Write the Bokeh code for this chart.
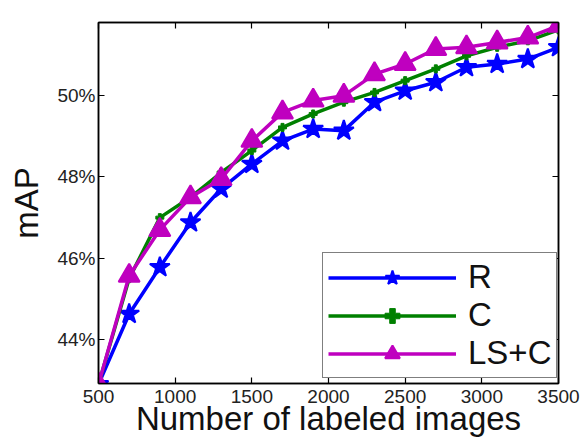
from bokeh.plotting import figure
from bokeh.models import Range1d, FixedTicker, LinearAxis, PrintfTickFormatter, Legend, LegendItem
from bokeh.embed import file_html
from bokeh.resources import INLINE

# ---- data ----
x_vals = [500, 700, 900, 1100, 1300, 1500, 1700, 1900, 2100, 2300, 2500, 2700, 2900, 3100, 3300, 3500]
r_vals = [42.9, 44.63, 45.78, 46.88, 47.71, 48.32, 48.89, 49.18, 49.14, 49.84, 50.12, 50.33, 50.70, 50.78, 50.90, 51.19]
c_vals = [42.9, 45.50, 47.00, 47.50, 48.11, 48.65, 49.22, 49.55, 49.84, 50.08, 50.37, 50.66, 50.98, 51.19, 51.35, 51.62]
lsc_vals = [42.9, 45.57, 46.70, 47.50, 47.95, 48.89, 49.59, 49.88, 50.00, 50.53, 50.78, 51.15, 51.19, 51.31, 51.43, 51.72]
series_names = ["R", "C", "LS+C"]
x_ticks = [500, 1000, 1500, 2000, 2500, 3000, 3500]
y_ticks = [44, 46, 48, 50]

FONT = "Liberation Sans"

p = figure(width=582, height=442, output_backend="svg", toolbar_location=None,
           x_range=Range1d(500, 3500), y_range=Range1d(42.92, 51.8),
           min_border_left=98, min_border_right=24, min_border_top=22, min_border_bottom=59,
           x_axis_label="Number of labeled images", y_axis_label="mAP")
p.grid.visible = False
p.outline_line_color = "black"
p.outline_line_width = 1.5
p.background_fill_color = "white"
p.border_fill_color = "white"

p.add_layout(LinearAxis(), "above")
p.add_layout(LinearAxis(), "right")

for ax in p.xaxis:
    ax.ticker = FixedTicker(ticks=x_ticks)
for ax in p.yaxis:
    ax.ticker = FixedTicker(ticks=y_ticks)
    ax.formatter = PrintfTickFormatter(format="%d%%")

for ax in p.axis:
    ax.axis_line_color = "black"
    ax.axis_line_width = 1.5
    ax.major_tick_in = 6
    ax.major_tick_out = 0
    ax.major_tick_line_color = "black"
    ax.major_tick_line_width = 1.2
    ax.minor_tick_line_color = None
    ax.major_label_text_font = FONT
    ax.major_label_text_font_size = "19px"
    ax.major_label_text_color = "#222222"
    ax.axis_label_text_font = FONT
    ax.axis_label_text_font_size = "33px"
    ax.axis_label_text_font_style = "normal"
    ax.axis_label_text_color = "#111111"

for ax in (p.above[0], p.right[0]):
    ax.major_label_text_color = None
    ax.major_label_text_font_size = "1px"
    ax.major_label_standoff = 0

p.below[0].major_label_standoff = 6
p.below[0].axis_label_standoff = -6
p.left[0].major_label_standoff = 3
p.left[0].axis_label_standoff = 9

colors = ["#0000ff", "#008000", "#bf00bf"]
markers = ["star", "plus", "triangle"]
sizes = [21, 8, 21]
widths = [2, 1, 2]
items = []
for name, vals, col, mk, sz, lw in zip(series_names, [r_vals, c_vals, lsc_vals], colors, markers, sizes, widths):
    ln = p.line(x_vals, vals, line_color=col, line_width=3.5)
    sc = p.scatter(x_vals, vals, marker=mk, size=sz, fill_color=col, line_color=col, line_width=lw)
    items.append(LegendItem(label=name, renderers=[ln, sc]))

legend = Legend(items=items, location=(224, 5))
legend.label_text_font = FONT
legend.label_text_font_size = "33px"
legend.label_text_color = "#111111"
legend.label_height = 37
legend.glyph_height = 37
legend.glyph_width = 128
legend.label_standoff = 12
legend.label_width = 80
legend.padding = 5
legend.spacing = 0
legend.margin = 0
legend.border_line_color = "black"
legend.border_line_width = 1.5
legend.background_fill_color = "white"
legend.background_fill_alpha = 1
p.add_layout(legend)

open("out.html", "w").write(file_html(p, INLINE))
